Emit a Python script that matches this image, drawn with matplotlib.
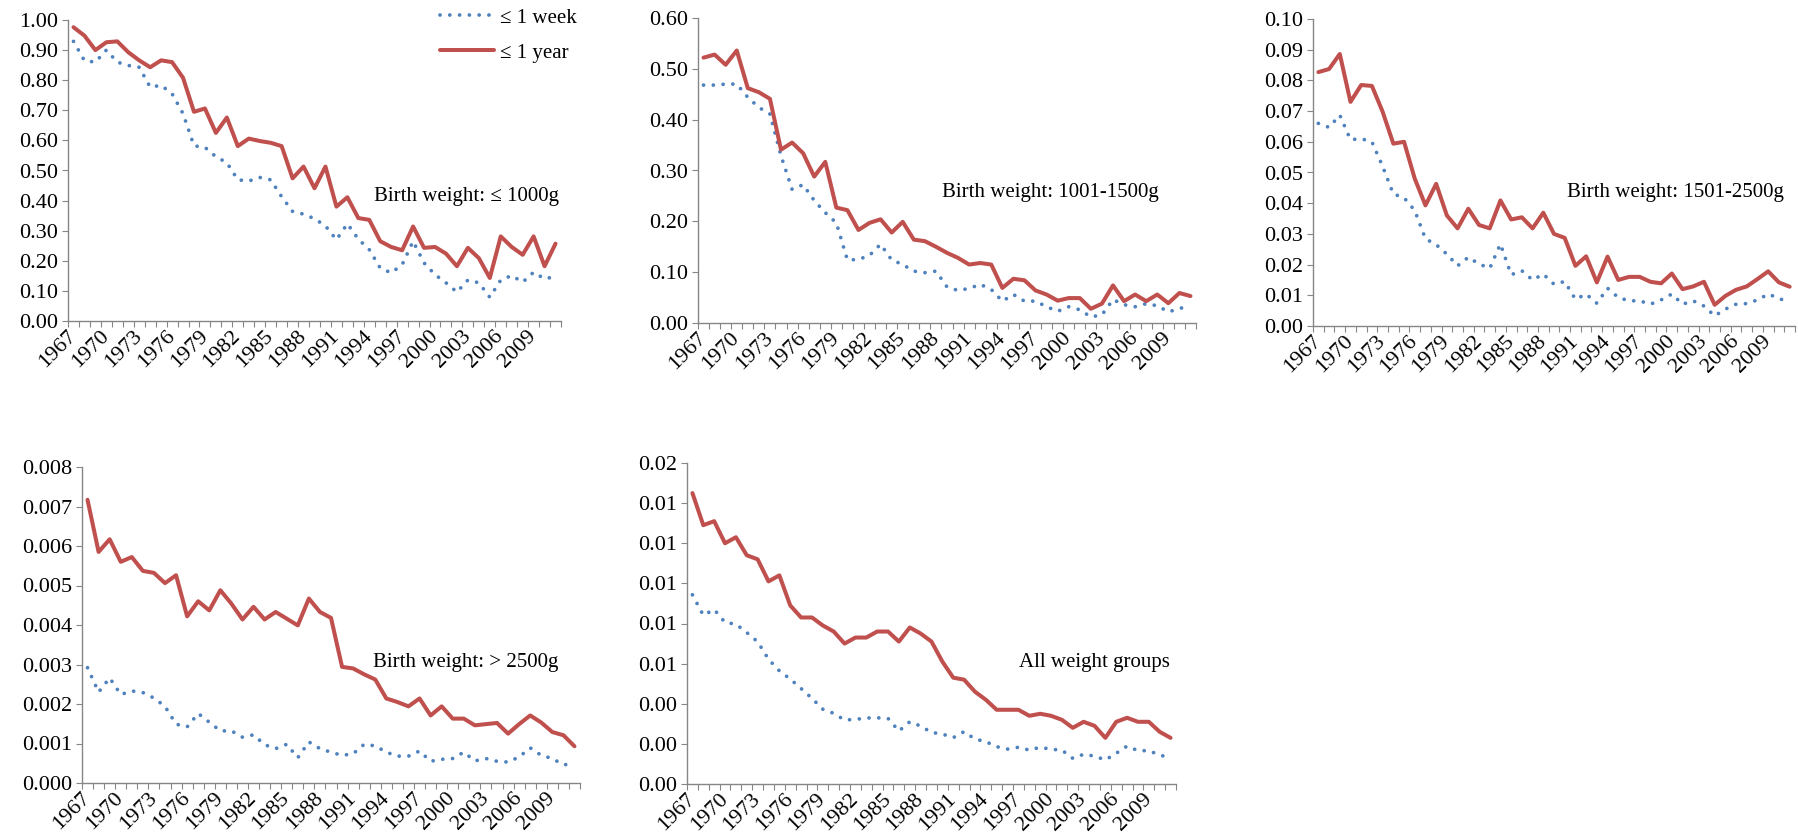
import numpy as np
import matplotlib
matplotlib.use('Agg')
import matplotlib.pyplot as plt

plt.rcParams['font.family'] = ['Liberation Serif', 'DejaVu Serif']

years = np.arange(1967, 2012)

# birth weight <= 1000g
w1000_week = [0.929,0.865,0.860,0.900,0.860,0.849,0.843,0.777,0.783,0.755,0.689,0.582,0.577,0.546,0.526,
              0.469,0.465,0.477,0.469,0.413,0.364,0.355,0.340,0.316,0.270,0.323,0.272,0.237,0.176,0.160,
              0.187,0.265,0.193,0.154,0.127,0.096,0.136,0.127,0.079,0.136,0.151,0.129,0.162,0.140,0.148]
w1000_year = [0.976,0.948,0.900,0.926,0.929,0.893,0.866,0.843,0.866,0.860,0.808,0.695,0.706,0.625,0.676,
              0.581,0.606,0.598,0.592,0.581,0.474,0.513,0.441,0.513,0.380,0.411,0.342,0.336,0.265,0.246,
              0.235,0.314,0.243,0.246,0.224,0.182,0.243,0.209,0.143,0.281,0.246,0.220,0.281,0.182,0.257]

# birth weight 1001-1500g
w1500_week = [0.468,0.468,0.470,0.470,0.444,0.424,0.411,0.329,0.263,0.272,0.241,0.217,0.197,0.124,0.125,
              0.133,0.155,0.124,0.115,0.102,0.099,0.102,0.071,0.064,0.068,0.076,0.066,0.043,0.056,0.043,
              0.043,0.032,0.023,0.032,0.026,0.012,0.016,0.046,0.036,0.032,0.038,0.034,0.022,0.028,0.036]
w1500_year = [0.522,0.528,0.508,0.536,0.462,0.454,0.441,0.341,0.355,0.334,0.288,0.317,0.227,0.222,0.183,
              0.197,0.204,0.178,0.199,0.164,0.161,0.150,0.138,0.128,0.115,0.118,0.115,0.069,0.087,0.084,
              0.064,0.056,0.044,0.049,0.049,0.028,0.038,0.074,0.043,0.056,0.043,0.056,0.039,0.059,0.053]

# birth weight 1501-2500g
w2500_week = [0.0660,0.0647,0.0687,0.0607,0.0610,0.0600,0.0520,0.0430,0.0418,0.0376,0.0284,0.0265,0.0234,
              0.0196,0.0224,0.0202,0.0188,0.0267,0.0167,0.0180,0.0150,0.0169,0.0136,0.0145,0.0087,0.0104,
              0.0074,0.0123,0.0093,0.0082,0.0082,0.0071,0.0085,0.0104,0.0071,0.0082,0.0065,0.0033,0.0055,
              0.0071,0.0073,0.0085,0.0104,0.0090,0.0076]
w2500_year = [0.0827,0.0837,0.0886,0.0730,0.0785,0.0782,0.0698,0.0594,0.0600,0.0480,0.0393,0.0463,0.0360,
              0.0318,0.0382,0.0329,0.0318,0.0409,0.0347,0.0354,0.0318,0.0369,0.0300,0.0287,0.0196,0.0227,
              0.0142,0.0226,0.0150,0.0160,0.0160,0.0144,0.0139,0.0171,0.0120,0.0129,0.0144,0.0069,0.0098,
              0.0118,0.0129,0.0153,0.0178,0.0142,0.0128]

# birth weight > 2500g (per 1000)
over_week = [2.92,2.30,2.66,2.24,2.33,2.29,2.15,1.94,1.49,1.42,1.76,1.54,1.32,1.32,1.16,1.22,0.97,0.87,
             0.98,0.64,1.04,0.87,0.78,0.70,0.74,0.98,0.94,0.78,0.68,0.68,0.81,0.55,0.60,0.62,0.78,0.56,
             0.62,0.55,0.53,0.66,0.89,0.70,0.62,0.46,0.49]
over_year = [7.17,5.85,6.17,5.60,5.72,5.37,5.32,5.06,5.26,4.22,4.60,4.37,4.88,4.54,4.14,4.46,4.14,4.33,
             4.16,3.99,4.67,4.33,4.18,2.94,2.90,2.75,2.62,2.14,2.05,1.94,2.14,1.71,1.94,1.63,1.63,1.46,
             1.49,1.52,1.25,1.49,1.71,1.53,1.29,1.21,0.93]

# all weight groups (per 1000)
all_week = [9.43,8.41,8.70,8.05,7.97,7.55,7.09,6.22,5.64,5.23,4.76,4.27,3.73,3.52,3.19,3.22,3.29,3.30,
            3.27,2.64,3.10,2.89,2.57,2.49,2.31,2.61,2.24,2.11,1.86,1.74,1.83,1.69,1.83,1.73,1.69,1.28,
            1.48,1.39,1.20,1.53,1.89,1.66,1.66,1.44,1.31]
all_year = [14.5,12.9,13.1,12.0,12.3,11.4,11.2,10.1,10.4,8.9,8.3,8.3,7.9,7.6,7.0,7.3,7.3,7.6,7.6,7.1,
            7.8,7.5,7.1,6.1,5.3,5.2,4.6,4.2,3.7,3.7,3.7,3.4,3.5,3.4,3.2,2.8,3.1,2.9,2.3,3.1,3.3,3.1,3.1,
            2.6,2.3]

W, H = 1798, 840
BLUE = '#4F81BD'
RED = '#C0504D'
GRAY = '#868686'
FS = 15      # annotation / legend text
TFS = 16     # tick labels

fig = plt.figure(figsize=(W/100, H/100), dpi=100)

def panel(box, week, year, ymax, ystep, fmt, label, lab_xy):
    l, r, t, b = box  # pixel box of the plot area
    ax = fig.add_axes([l/W, 1-b/H, (r-l)/W, (b-t)/H])
    x = np.arange(len(years))
    ax.plot(x, week, color=BLUE, lw=2.7, dashes=(0.01, 2.6), dash_capstyle='round', label='≤ 1 week')
    ax.plot(x, year, color=RED, lw=2.9, solid_joinstyle='round', solid_capstyle='round', label='≤ 1 year')
    ax.set_xlim(-0.5, len(years)-0.5)
    ax.set_ylim(0, ymax)
    yt = np.arange(0, ymax + ystep/2, ystep)
    ax.set_yticks(yt)
    ax.set_yticklabels([fmt % v for v in yt], fontsize=TFS)
    ax.set_xticks(x[::3])
    ax.set_xticklabels([str(v) for v in years[::3]], rotation=45, ha='right', va='center',
                       rotation_mode='anchor', fontsize=TFS)
    ax.set_xticks(np.arange(-0.5, len(years)), minor=True)
    ax.tick_params(axis='x', which='major', length=0, pad=9)
    ax.tick_params(axis='x', which='minor', length=4, width=0.8, color=GRAY)
    ax.tick_params(axis='y', length=4, width=0.8, color=GRAY, pad=3)
    for s in ['top', 'right']:
        ax.spines[s].set_visible(False)
    for s in ['left', 'bottom']:
        ax.spines[s].set_color(GRAY)
        ax.spines[s].set_linewidth(1.0)
    fig.text(lab_xy[0]/W, 1-lab_xy[1]/H, label, ha='right', va='center', fontsize=FS)
    return ax

ax1 = panel((68, 561, 20, 321), w1000_week, w1000_year, 1.0, 0.1, '%.2f',
            'Birth weight: ≤ 1000g', (559, 196))
panel((698, 1196, 18, 323), w1500_week, w1500_year, 0.6, 0.1, '%.2f',
      'Birth weight: 1001-1500g', (1159, 193))
panel((1313, 1795, 19, 326), w2500_week, w2500_year, 0.10, 0.01, '%.2f',
      'Birth weight: 1501-2500g', (1784, 193))
panel((82, 580, 467, 783), np.array(over_week)/1000, np.array(over_year)/1000, 0.008, 0.001, '%.3f',
      'Birth weight: > 2500g', (558, 663))
panel((687, 1176, 463, 784), np.array(all_week)/1000, np.array(all_year)/1000, 0.016, 0.002, '%.2f',
      'All weight groups', (1170, 662))

ax1.legend(loc='upper right', bbox_to_anchor=(577/W, 1-8/H), bbox_transform=fig.transFigure,
           frameon=False, fontsize=FS, handlelength=2.6, handletextpad=0.3, labelspacing=0.75,
           borderpad=0, borderaxespad=0)

plt.savefig('out.png', dpi=100)
